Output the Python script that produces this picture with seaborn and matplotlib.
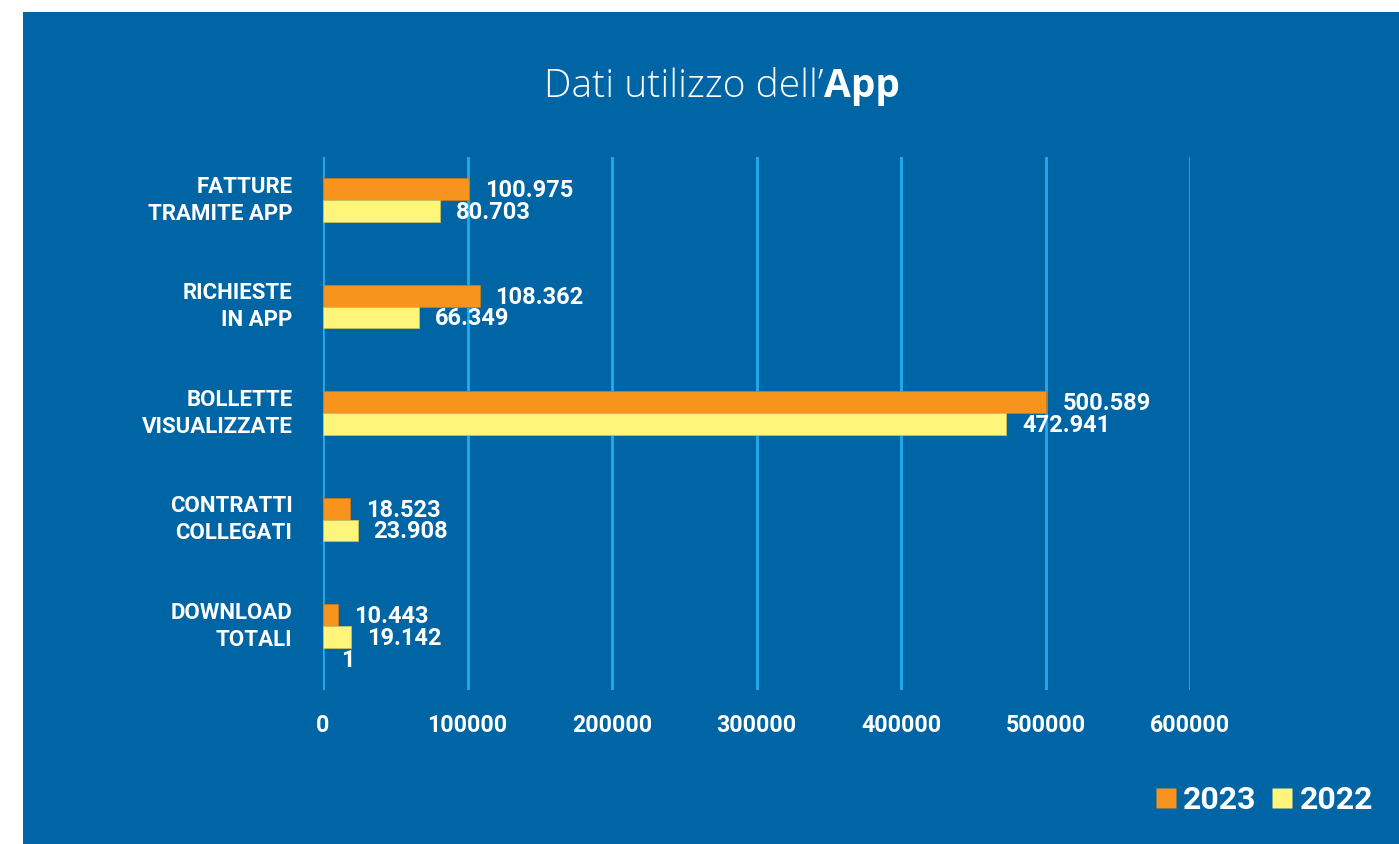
import matplotlib
matplotlib.use("Agg")
import matplotlib.pyplot as plt
import matplotlib.transforms as mtransforms
from matplotlib.patches import Rectangle
from matplotlib.lines import Line2D
import seaborn as sns
import pandas as pd

# ---- data ----
categories = ["FATTURE\nTRAMITE APP", "RICHIESTE\nIN APP", "BOLLETTE\nVISUALIZZATE",
              "CONTRATTI\nCOLLEGATI", "DOWNLOAD\nTOTALI"]
values_2023 = [100975, 108362, 500589, 18523, 10443]
values_2022 = [80703, 66349, 472941, 23908, 19142]
years = ["2023", "2022"]
x_ticks = [0, 100000, 200000, 300000, 400000, 500000, 600000]
stray_label = "1"

BG = "#0065A4"
ORANGE = "#F7941D"
YELLOW = "#FFF57A"
GRID = "#22ACEE"

df = pd.DataFrame({
    "cat": categories * 2,
    "val": values_2023 + values_2022,
    "year": [years[0]] * len(categories) + [years[1]] * len(categories),
})

sns.set_theme(style="white")
plt.rcParams["font.family"] = ["Roboto", "DejaVu Sans"]

W, H = 1399, 844
fig = plt.figure(figsize=(W / 100, H / 100), dpi=100)
fig.patch.set_facecolor("white")
fig.add_artist(Rectangle((23 / W, 0), 1, (H - 12) / H, transform=fig.transFigure,
                         facecolor=BG, edgecolor="none", zorder=0))

ax = fig.add_axes([323 / W, 1 - 690 / H, (1190 - 323) / W, (690 - 157) / H])
ax.set_facecolor("none")

sns.barplot(data=df, y="cat", x="val", hue="year", orient="h",
            palette=[ORANGE, YELLOW], saturation=1, width=0.41, gap=0, dodge=True,
            ax=ax, legend=False, zorder=3, errorbar=None, linewidth=0)

for cont, ec in zip(ax.containers, ["#C87A1A", "#C9C060"]):
    for rect in cont:
        rect.set_edgecolor(ec)
        rect.set_linewidth(0.6)

ax.set_xlim(0, 600000)
ax.set_ylim(4.60, -0.404)
ax.set_xticks(x_ticks)
ax.set_xticklabels([str(v) for v in x_ticks])
ax.xaxis.grid(True, color=GRID, linewidth=2, zorder=1)
ax.yaxis.grid(False)
for s in ax.spines.values():
    s.set_visible(False)
ax.tick_params(axis="x", length=0, pad=17, labelsize=16.7, labelcolor="white")
ax.tick_params(axis="y", length=0, pad=22, labelsize=16, labelcolor="white")
for lab in ax.get_xticklabels():
    lab.set_fontweight("bold")
shift_up = mtransforms.ScaledTranslation(0, 5 / 100, fig.dpi_scale_trans)
for lab in ax.get_yticklabels():
    lab.set_fontweight("bold")
    lab.set_linespacing(1.3)
    lab.set_ha("right")
    lab.set_transform(lab.get_transform() + shift_up)
ax.set_xlabel("")
ax.set_ylabel("")

def fmt(v):
    return f"{v:,}".replace(",", ".")

for cont in ax.containers:
    for rect in cont:
        w = rect.get_width()
        yc = rect.get_y() + rect.get_height() / 2
        ax.annotate(fmt(int(round(w))), xy=(w, yc), xytext=(11.5, -1),
                    textcoords="offset points", ha="left", va="center",
                    color="white", fontsize=17, fontweight="bold", zorder=5)

# stray label under the last yellow bar
last = ax.containers[1][-1]
ax.annotate(stray_label, xy=(last.get_width(), last.get_y() + last.get_height()),
            xytext=(-7, -9), textcoords="offset points", ha="left", va="center",
            color="white", fontsize=17, fontweight="bold", zorder=5)

# title with mixed weights
fig.canvas.draw()
r = fig.canvas.get_renderer()
ty = 1 - 87 / H
t1 = fig.text(0, ty, "Dati utilizzo dell’", color="white", fontsize=28,
              family=["Open Sans", "DejaVu Sans"], fontweight="light", va="center")
t2 = fig.text(0, ty, "App", color="white", fontsize=28,
              family=["Open Sans", "DejaVu Sans"], fontweight="bold", va="center")
w1 = t1.get_window_extent(r).width
w2 = t2.get_window_extent(r).width
x0 = 722 - (w1 + w2) / 2
t1.set_x(x0 / W)
t2.set_x((x0 + w1) / W)

handles = [Line2D([], [], marker="s", linestyle="none", markersize=14,
                  markerfacecolor=c, markeredgecolor="none") for c in (ORANGE, YELLOW)]
leg = fig.legend(handles, years, loc="center right", bbox_to_anchor=(1402 / W, 1 - 800 / H),
                 ncol=2, frameon=False, handlelength=0.6, handletextpad=0.25,
                 columnspacing=0.5, prop={"size": 23, "weight": "bold"})
for t in leg.get_texts():
    t.set_color("white")

fig.savefig("out.png", dpi=100, facecolor=fig.get_facecolor())
